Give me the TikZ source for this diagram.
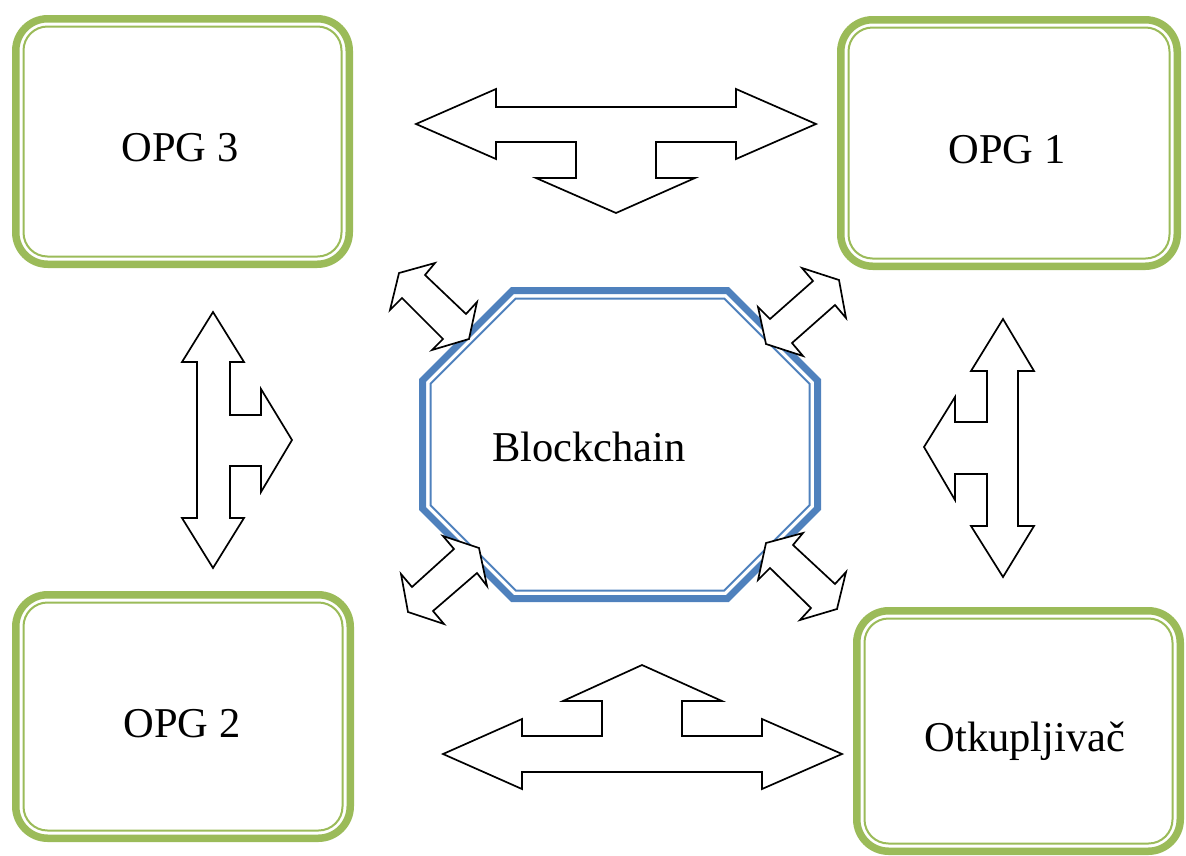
\documentclass[tikz,border=0pt]{standalone}
\usepackage{fontspec}
\setmainfont{Liberation Serif}
\definecolor{ogreen}{HTML}{9BBB59}
\definecolor{oblue}{HTML}{4F81BD}
\tikzset{
  outerbox/.style={draw=ogreen, line width=7.5pt, rounded corners=32pt, inner sep=0pt, fill=white},
  innerbox/.style={draw=ogreen, line width=2pt, rounded corners=24pt, inner sep=0pt},
  lbl/.style={anchor=base, inner sep=0pt, font=\fontsize{42.5}{50}\selectfont},
  blockarrow/.style={draw=black, fill=white, line width=1.7pt, line join=miter, miter limit=10},
  octthick/.style={draw=oblue, line width=7pt, line join=miter},
  octthin/.style={draw=oblue, line width=2pt, line join=miter}
}
\begin{document}
\begin{tikzpicture}[x=1pt,y=-1pt]
\useasboundingbox (0,0) rectangle (1186,855);
% boxes
\node[outerbox, minimum width=333.5pt, minimum height=245.5pt] (opg3) at (182.5,141.5) {};
\node[innerbox, minimum width=318pt, minimum height=230pt] (opg3in) at (opg3.center) {};
\node[outerbox, minimum width=336.5pt, minimum height=246.5pt] (opg1) at (1009,143) {};
\node[innerbox, minimum width=321pt, minimum height=231pt] (opg1in) at (opg1.center) {};
\node[outerbox, minimum width=334.5pt, minimum height=243.5pt] (opg2) at (183,716.5) {};
\node[innerbox, minimum width=319pt, minimum height=228pt] (opg2in) at (opg2.center) {};
\node[outerbox, minimum width=323.5pt, minimum height=240.5pt] (otk) at (1018.5,731) {};
\node[innerbox, minimum width=308pt, minimum height=225pt] (otkin) at (otk.center) {};
% labels
\node[lbl] (t3) at (180,161) {OPG 3};
\node[lbl] (t1) at (1007,163) {OPG 1};
\node[lbl] (t2) at (182,737) {OPG 2};
\node[lbl] (tk) at (1025,751) {Otkupljivač};
% octagon
\draw[octthick] (512.5,290.5) -- (727.5,290.5) -- (817.5,380.5) -- (817.5,508.5) -- (727.5,598.5) -- (512.5,598.5) -- (422.5,508.5) -- (422.5,380.5) -- cycle;
\draw[octthin] (515.8,298.5) -- (724.2,298.5) -- (809.5,383.8) -- (809.5,505.2) -- (724.2,590.5) -- (515.8,590.5) -- (430.5,505.2) -- (430.5,383.8) -- cycle;
\node[lbl] (bc) at (589,461) {Blockchain};
% top arrow
\draw[blockarrow] (416,124) -- (496,89) -- (496,107) -- (736,107) -- (736,89) -- (816,124) -- (736,159) -- (736,142) -- (656,142) -- (656,178) -- (695,178) -- (616,213) -- (536,178) -- (576,178) -- (576,142) -- (496,142) -- (496,159) -- cycle;
% left vertical arrow
\draw[blockarrow] (213,312) -- (244,362) -- (230,362) -- (230,415) -- (261,415) -- (261,389) -- (292,440) -- (261,492) -- (261,466) -- (230,466) -- (230,518) -- (244,518) -- (213,568) -- (182,518) -- (197,518) -- (197,362) -- (182,362) -- cycle;
% right vertical arrow
\draw[blockarrow] (1003,319) -- (1034,371) -- (1018,371) -- (1018,526) -- (1034,526) -- (1003,577) -- (971,526) -- (987,526) -- (987,474) -- (955,474) -- (955,500) -- (924,447) -- (955,397) -- (955,422) -- (987,422) -- (987,371) -- (971,371) -- cycle;
% bottom arrow
\draw[blockarrow] (642,665) -- (722,701) -- (682,701) -- (682,736) -- (762,736) -- (762,719) -- (842,754) -- (762,789) -- (762,772) -- (522,772) -- (522,789) -- (443,754) -- (522,719) -- (522,736) -- (602,736) -- (602,701) -- (563,701) -- cycle;
% diagonal arrows
\draw[blockarrow] (435,263) -- (425,275) -- (466,314) -- (477,302) -- (469,339) -- (432,350) -- (443,339) -- (402,298) -- (390,310) -- (399,273) -- cycle;
\draw[blockarrow] (802,268) -- (813,281) -- (770,319) -- (758,307) -- (766,344) -- (803,356) -- (792,343) -- (835,305) -- (846,318) -- (839,280) -- cycle;
\draw[blockarrow] (443,536) -- (454,549) -- (412,587) -- (401,574) -- (408,612) -- (444,624) -- (433,611) -- (477,573) -- (487,586) -- (479,548) -- cycle;
\draw[blockarrow] (803,533) -- (793,545) -- (835,584) -- (846,572) -- (837,609) -- (800,620) -- (811,608) -- (770,568) -- (758,580) -- (766,543) -- cycle;
\end{tikzpicture}
\end{document}
